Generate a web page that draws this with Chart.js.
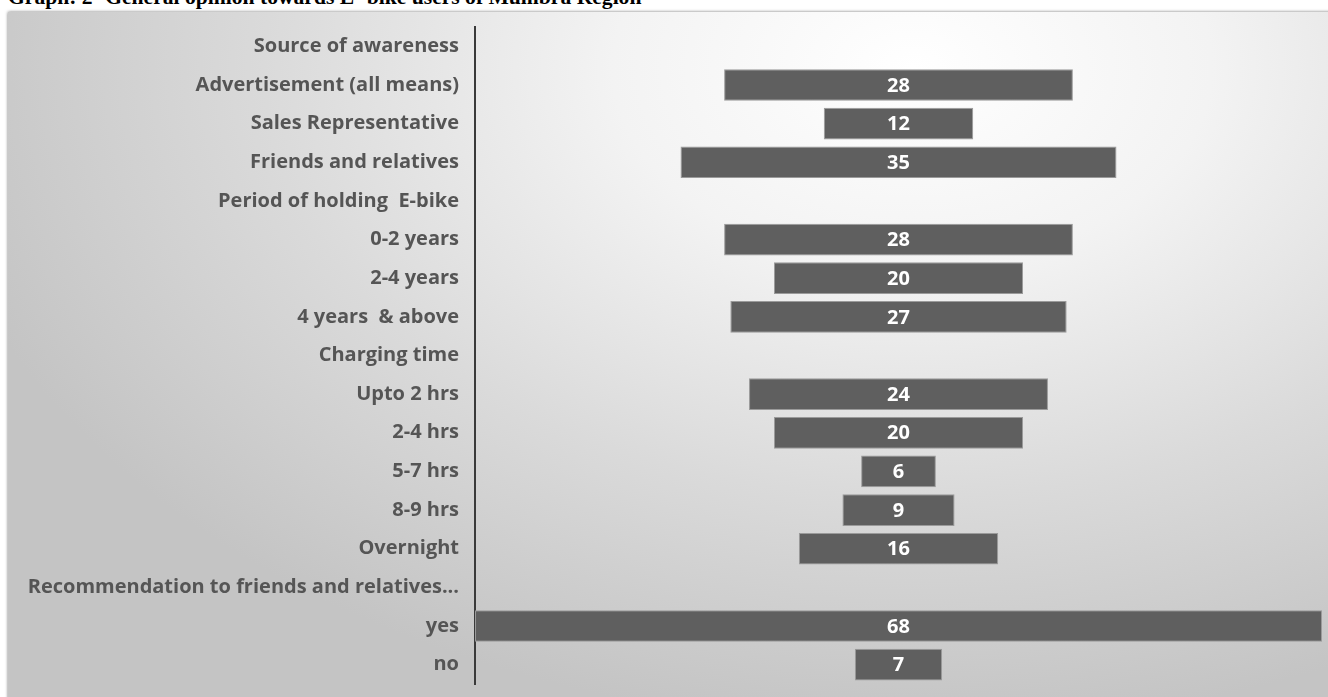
<!DOCTYPE html>
<html>
<head>
<meta charset="utf-8">
<script src="https://cdn.jsdelivr.net/npm/chart.js@4.4.0/dist/chart.umd.min.js"></script>
<style>
  body { margin: 0; width: 1328px; height: 697px; overflow: hidden; background: #fff; position: relative; }
  #title { position: absolute; left: 8px; top: -14px; font: bold 21.6px "Liberation Serif", serif; line-height: 22px; color: #000; white-space: nowrap; }
  #panel { position: absolute; left: 8px; top: 12px; width: 1330px; height: 695px;
    background: radial-gradient(ellipse 75% 95% at 68% 8%, #ffffff 0%, #f3f3f3 30%, #dadada 65%, #c4c4c4 100%);
    box-shadow: 0 0 3px rgba(0,0,0,0.55); }
  #wrap { position: absolute; left: 8px; top: 12px; width: 1320px; height: 685px; }
</style>
</head>
<body>
<div id="title">Graph: 2- General opinion towards E- bike users of Mumbra Region</div>
<div id="panel"></div>
<div id="wrap"><canvas id="funnel"></canvas></div>
<script>
var categories = [
  "Source of awareness",
  "Advertisement (all means)",
  "Sales Representative",
  "Friends and relatives",
  "Period of holding  E-bike",
  "0-2 years",
  "2-4 years",
  "4 years  & above",
  "Charging time",
  "Upto 2 hrs",
  "2-4 hrs",
  "5-7 hrs",
  "8-9 hrs",
  "Overnight",
  "Recommendation to friends and relatives...",
  "yes",
  "no"
];
// null = section heading, no bar
var counts = [null, 28, 12, 35, null, 28, 20, 27, null, 24, 20, 6, 9, 16, null, 68, 7];

var maxCount = Math.max.apply(null, counts.filter(function(v){ return v != null; }));
var mid = maxCount / 2;

// funnel: each bar centred on the middle of the axis
var spans = [];
for (var i in counts) {
  if (counts[i] == null) spans.push(null);
  else spans.push([mid - counts[i] / 2, mid + counts[i] / 2]);
}

var barLabels = {
  id: 'barLabels',
  afterDatasetsDraw: function(chart) {
    var ctx = chart.ctx;
    var meta = chart.getDatasetMeta(0);
    ctx.save();
    ctx.fillStyle = '#ffffff';
    ctx.font = 'bold 20px "Open Sans", sans-serif';
    ctx.textAlign = 'center';
    ctx.textBaseline = 'middle';
    meta.data.forEach(function(bar, idx) {
      if (counts[idx] == null) return;
      ctx.fillText(counts[idx], (bar.x + bar.base) / 2, bar.y + 1);
    });
    ctx.restore();
  }
};

var ctx = document.getElementById('funnel');

var FunnelChart = new Chart(ctx, {
  type: 'bar',
  data: {
    labels: categories,
    datasets: [{
      data: spans,
      backgroundColor: '#5f5f5f',
      borderColor: '#9a9a9a',
      borderWidth: 1,
      borderSkipped: false,
      categoryPercentage: 0.82,
      barPercentage: 1
    }]
  },
  options: {
    indexAxis: 'y',
    responsive: true,
    maintainAspectRatio: false,
    animation: false,
    layout: { padding: { top: 15, bottom: 13, right: 6, left: 0 } },
    plugins: { legend: { display: false }, tooltip: { enabled: false } },
    scales: {
      x: { display: false, min: 0, max: maxCount },
      y: {
        grid: { display: false, drawTicks: false },
        border: { display: true, color: '#3a3a3a', width: 2 },
        ticks: {
          color: '#555555',
          padding: 16,
          font: { family: '"Open Sans", sans-serif', size: 20, weight: 'bold' }
        },
        afterFit: function(scale) {
          scale.width = 467;
          scale.paddingTop = 0;
          scale.paddingBottom = 0;
        }
      }
    }
  },
  plugins: [barLabels]
});
</script>
</body>
</html>
